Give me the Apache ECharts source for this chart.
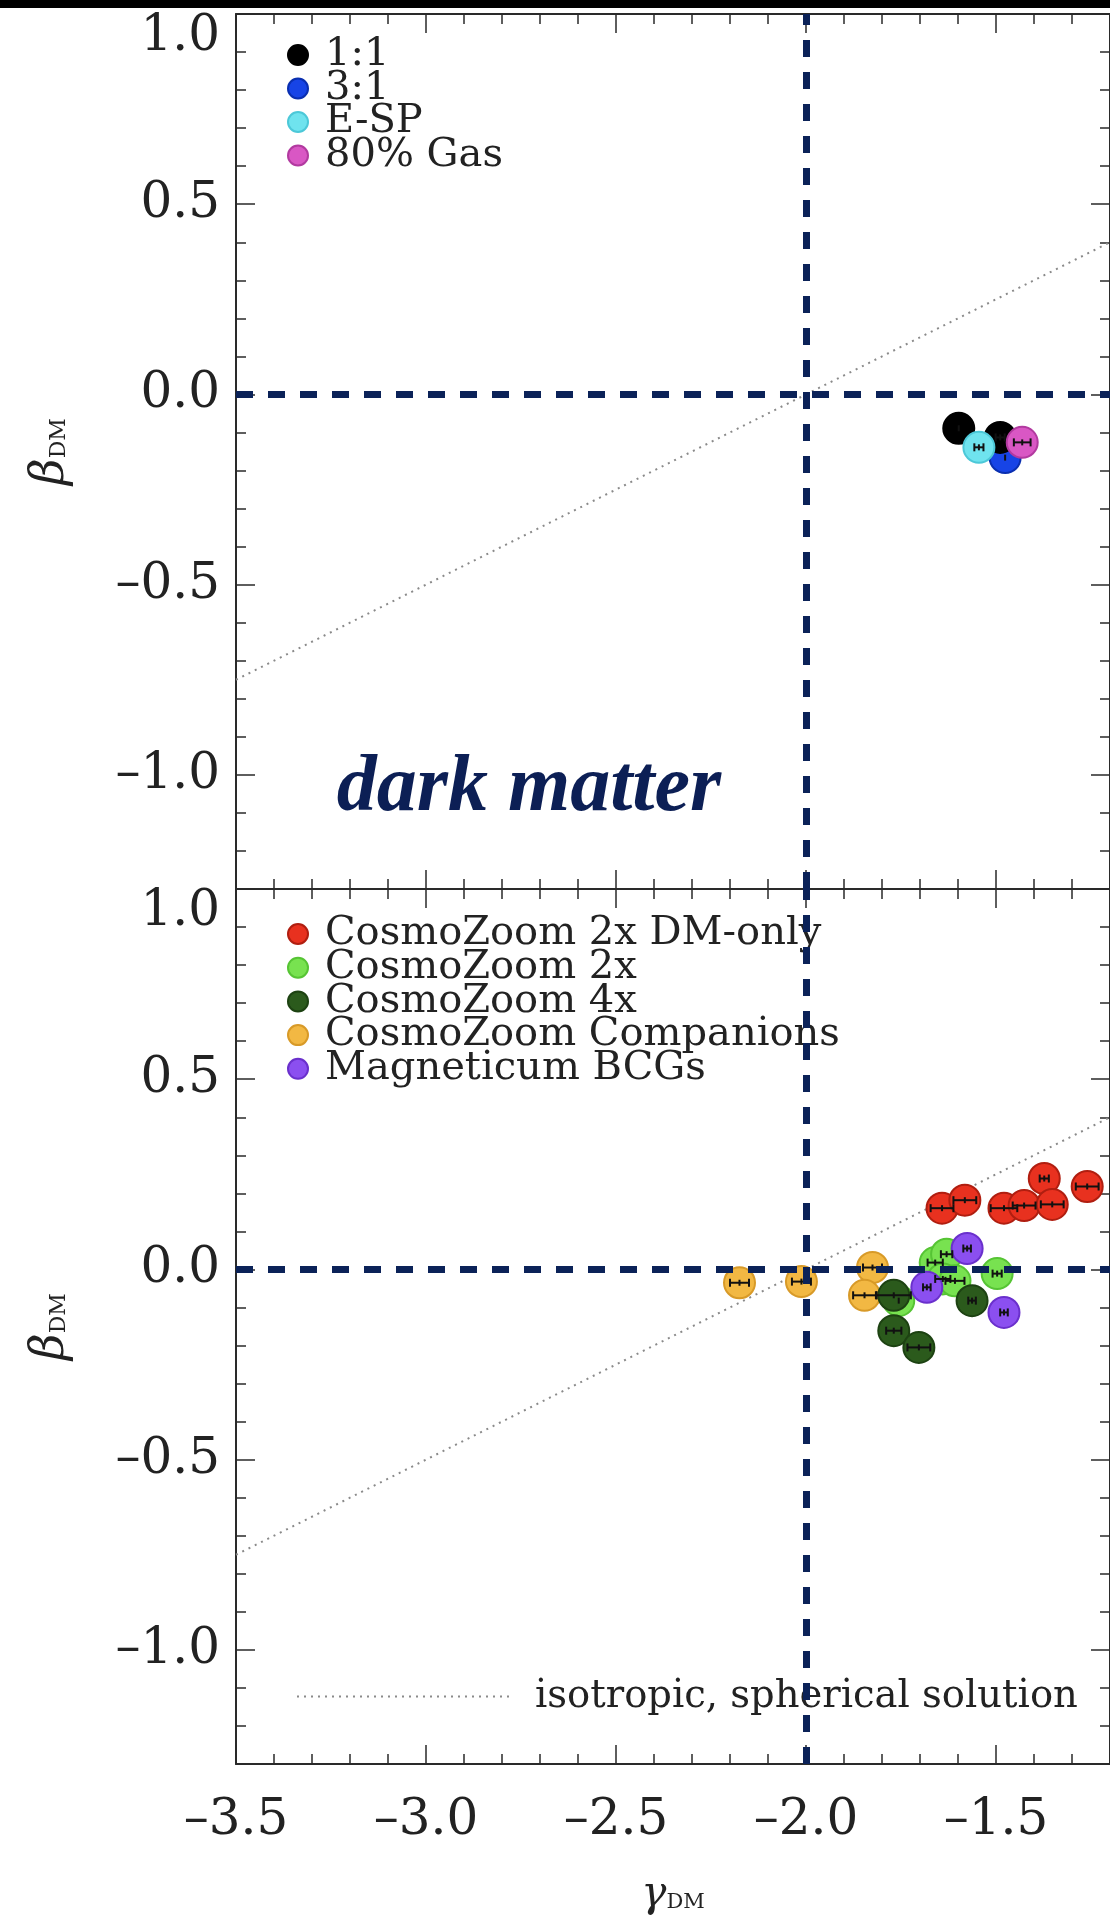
<!DOCTYPE html>
<html>
<head>
<meta charset="utf-8">
<script src="https://cdn.jsdelivr.net/npm/echarts@6/dist/echarts.min.js"></script>
<style>
  html, body { margin: 0; padding: 0; background: #ffffff; }
  #chart { width: 1110px; height: 1917px; }
</style>
</head>
<body>
<div id="chart"></div>
<script>
// Axis extents and labelled ticks, shared by both panels
const gammaRange = [-3.5, -1.2];
const betaRange = [-1.3, 1.0];
const gammaTicks = [-3.5, -3.0, -2.5, -2.0, -1.5];
const betaTicks = [-1.0, -0.5, 0.0, 0.5, 1.0];

// Binary merger runs (upper panel): [gamma_DM, beta_DM, gamma error]
const merger11 = [[-1.598, -0.089, 0.0], [-1.489, -0.113, 0.012]];
const merger31 = [[-1.476, -0.166, 0.0]];
const mergerESP = [[-1.545, -0.139, 0.012]];
const merger80Gas = [[-1.431, -0.126, 0.022]];

// Cosmological zoom runs and Magneticum BCGs (lower panel)
const czDMonly = [[-1.642, 0.161, 0.03], [-1.582, 0.182, 0.03], [-1.479, 0.161, 0.035],
                  [-1.426, 0.168, 0.03], [-1.373, 0.239, 0.012], [-1.352, 0.171, 0.03],
                  [-1.260, 0.218, 0.03]];
const cz2x = [[-1.756, -0.082, 0.0], [-1.660, 0.018, 0.02], [-1.630, 0.040, 0.015],
              [-1.640, -0.025, 0.02], [-1.608, -0.030, 0.025], [-1.497, -0.011, 0.012]];
const cz4x = [[-1.769, -0.068, 0.045], [-1.769, -0.161, 0.02], [-1.703, -0.205, 0.03],
              [-1.563, -0.082, 0.01]];
const czCompanions = [[-2.175, -0.035, 0.025], [-2.012, -0.032, 0.025],
                      [-1.825, 0.005, 0.025], [-1.846, -0.068, 0.03]];
const magneticumBCGs = [[-1.682, -0.047, 0.01], [-1.576, 0.055, 0.01], [-1.479, -0.113, 0.01]];

// Isotropic, spherical solution (end points across the plotted range)
const isoLine = [[-3.5, -0.75], [-1.2, 0.4]];

const NAVY = '#0b2258';
const AXIS = '#2a2a2a';
const SERIF = '"DejaVu Serif", serif';
const LABEL_SIZE = 50;

function fmt(v) {
  const s = Math.abs(v).toFixed(1);
  return v < 0 ? '\u2013' + s : s;
}

const grids = [
  { left: 236, top: 14, width: 874, height: 875 },
  { left: 236, top: 889, width: 874, height: 875 }
];

const xAxes = [];
const yAxes = [];
grids.forEach((g, gi) => {
  const isBottom = gi === 1;
  ['bottom', 'top'].forEach(pos => {
    // minor ticks every 0.1
    xAxes.push({
      gridIndex: gi, type: 'value', position: pos,
      min: gammaRange[0], max: gammaRange[1], interval: 0.1,
      axisLine: { show: true, onZero: false, lineStyle: { color: AXIS, width: 2 } },
      axisTick: { show: true, inside: true, length: 10, lineStyle: { color: AXIS, width: 1.5 } },
      axisLabel: { show: false }, splitLine: { show: false }
    });
    // major ticks and labels
    const major = {
      gridIndex: gi, type: 'value', position: pos,
      min: gammaRange[0], max: gammaRange[1],
      axisLine: { show: false, onZero: false },
      axisTick: { show: true, inside: true, length: 19, customValues: gammaTicks,
                  lineStyle: { color: AXIS, width: 1.5 } },
      axisLabel: { show: isBottom && pos === 'bottom', customValues: gammaTicks,
                   formatter: fmt, margin: 32,
                   fontFamily: SERIF, fontSize: LABEL_SIZE, color: '#222' },
      splitLine: { show: false }
    };
    if (isBottom && pos === 'bottom') {
      major.name = '{g|\u03b3}{s|DM}';
      major.nameLocation = 'middle';
      major.nameGap = 110;
      major.nameTextStyle = {
        rich: {
          g: { fontFamily: SERIF, fontStyle: 'italic', fontSize: 42, color: '#222' },
          s: { fontFamily: SERIF, fontSize: 21, color: '#222', padding: [16, 0, 0, 0] }
        }
      };
    }
    xAxes.push(major);
  });
  ['left', 'right'].forEach(pos => {
    yAxes.push({
      gridIndex: gi, type: 'value', position: pos,
      min: betaRange[0], max: betaRange[1], interval: 0.1,
      axisLine: { show: true, onZero: false, lineStyle: { color: AXIS, width: 2 } },
      axisTick: { show: true, inside: true, length: 10, lineStyle: { color: AXIS, width: 1.5 } },
      axisLabel: { show: false }, splitLine: { show: false }
    });
    const major = {
      gridIndex: gi, type: 'value', position: pos,
      min: betaRange[0], max: betaRange[1],
      axisLine: { show: false, onZero: false },
      axisTick: { show: true, inside: true, length: 19, customValues: betaTicks,
                  lineStyle: { color: AXIS, width: 1.5 } },
      axisLabel: {
        show: pos === 'left', customValues: betaTicks, margin: 16,
        formatter: v => (Math.abs(v - 1) < 1e-9 ? '{t|' + fmt(v) + '}' : fmt(v)),
        fontFamily: SERIF, fontSize: LABEL_SIZE, color: '#222',
        rich: { t: { fontFamily: SERIF, fontSize: LABEL_SIZE, color: '#222', padding: [46, 0, 0, 0] } }
      },
      splitLine: { show: false }
    };
    if (pos === 'left') {
      major.name = '{b|\u03b2}{s|DM}';
      major.nameLocation = 'middle';
      major.nameGap = 162;
      major.nameRotate = 90;
      major.nameTextStyle = {
        rich: {
          b: { fontFamily: SERIF, fontStyle: 'italic', fontSize: 46, color: '#222' },
          s: { fontFamily: SERIF, fontSize: 22, color: '#222', padding: [16, 0, 0, 0] }
        }
      };
    }
    yAxes.push(major);
  });
});

function scatter(name, data, color, border, gi) {
  return {
    name, type: 'scatter', data, xAxisIndex: gi * 4, yAxisIndex: gi * 4,
    encode: { x: 0, y: 1 }, symbol: 'circle', symbolSize: 31,
    itemStyle: { color, borderColor: border, borderWidth: 2, opacity: 1 },
    emphasis: { disabled: true }, z: 3
  };
}

function errorBars(data, gi) {
  return {
    type: 'custom', xAxisIndex: gi * 4, yAxisIndex: gi * 4, data, z: 4, silent: true,
    renderItem: (params, api) => {
      const x = api.value(0), y = api.value(1), e = api.value(2);
      const c = api.coord([x, y]);
      const style = { stroke: '#111', lineWidth: 2 };
      const kids = [];
      if (e > 0) {
        const a = api.coord([x - e, y]), b = api.coord([x + e, y]);
        kids.push({ type: 'line', shape: { x1: a[0], y1: a[1], x2: b[0], y2: b[1] }, style });
        kids.push({ type: 'line', shape: { x1: a[0], y1: a[1] - 4, x2: a[0], y2: a[1] + 4 }, style });
        kids.push({ type: 'line', shape: { x1: b[0], y1: b[1] - 4, x2: b[0], y2: b[1] + 4 }, style });
      }
      kids.push({ type: 'line', shape: { x1: c[0], y1: c[1] - 3, x2: c[0], y2: c[1] + 3 }, style });
      return { type: 'group', children: kids };
    }
  };
}

function isoSeries(gi) {
  return {
    name: 'isotropic, spherical solution', type: 'line', data: isoLine,
    xAxisIndex: gi * 4, yAxisIndex: gi * 4, symbol: 'none', silent: true, z: 2,
    lineStyle: { color: '#8a8a8a', width: 2, type: [2, 5] },
    markLine: {
      silent: true, symbol: 'none', label: { show: false },
      lineStyle: { color: NAVY, width: 7, type: [17, 15] },
      data: [{ xAxis: -2.0 }, { yAxis: 0.0 }]
    }
  };
}

const topSets = [
  ['3:1', merger31, '#1744e6', '#0a2fb0'],
  ['1:1', merger11, '#000000', '#000000'],
  ['E-SP', mergerESP, '#6fe3ee', '#4cc8d8'],
  ['80% Gas', merger80Gas, '#d957c4', '#b23aa0']
];
const bottomSets = [
  ['CosmoZoom 2x DM-only', czDMonly, '#e8311f', '#b01e10'],
  ['CosmoZoom Companions', czCompanions, '#f2b843', '#d89a28'],
  ['CosmoZoom 2x', cz2x, '#78e250', '#56c434'],
  ['CosmoZoom 4x', cz4x, '#2b5a1c', '#1d4212'],
  ['Magneticum BCGs', magneticumBCGs, '#8b4ff0', '#6a30cc']
];

const series = [isoSeries(0), isoSeries(1)];
topSets.forEach(s => series.push(scatter(s[0], s[1], s[2], s[3], 0)));
bottomSets.forEach(s => series.push(scatter(s[0], s[1], s[2], s[3], 1)));
topSets.forEach(s => series.push(errorBars(s[1], 0)));
bottomSets.forEach(s => series.push(errorBars(s[1], 1)));

const legendText = { fontFamily: SERIF, fontSize: 40, color: '#222', padding: [0, 0, 0, 12] };

const option = {
  animation: false,
  backgroundColor: '#ffffff',
  grid: grids,
  xAxis: xAxes,
  yAxis: yAxes,
  legend: [
    {
      data: ['1:1', '3:1', 'E-SP', '80% Gas'], orient: 'vertical', left: 287, top: 35,
      icon: 'circle', itemWidth: 20, itemHeight: 20, itemGap: -6.5, padding: 0,
      selectedMode: false, textStyle: legendText
    },
    {
      data: ['CosmoZoom 2x DM-only', 'CosmoZoom 2x', 'CosmoZoom 4x', 'CosmoZoom Companions', 'Magneticum BCGs'],
      orient: 'vertical', left: 287, top: 914,
      icon: 'circle', itemWidth: 20, itemHeight: 20, itemGap: -6.3, padding: 0,
      selectedMode: false, textStyle: legendText
    },
    {
      data: ['isotropic, spherical solution'], left: 296, top: 1677,
      itemWidth: 215, itemHeight: 10, padding: 0, selectedMode: false,
      itemStyle: { opacity: 0 },
      textStyle: { fontFamily: SERIF, fontSize: 38.5, color: '#222', padding: [0, 0, 0, 18] }
    }
  ],
  graphic: [
    { type: 'rect', shape: { x: 0, y: 0, width: 1110, height: 8 }, style: { fill: '#000' }, z: 100 },
    {
      type: 'text', x: 529, y: 789, z: 50,
      style: {
        text: 'dark matter', font: 'italic bold 80px "Liberation Serif", serif',
        fill: '#0c1f55', align: 'center', verticalAlign: 'middle'
      }
    }
  ],
  series
};

const chart = echarts.init(document.getElementById('chart'), null, { renderer: 'canvas' });
chart.setOption(option);
</script>
</body>
</html>
